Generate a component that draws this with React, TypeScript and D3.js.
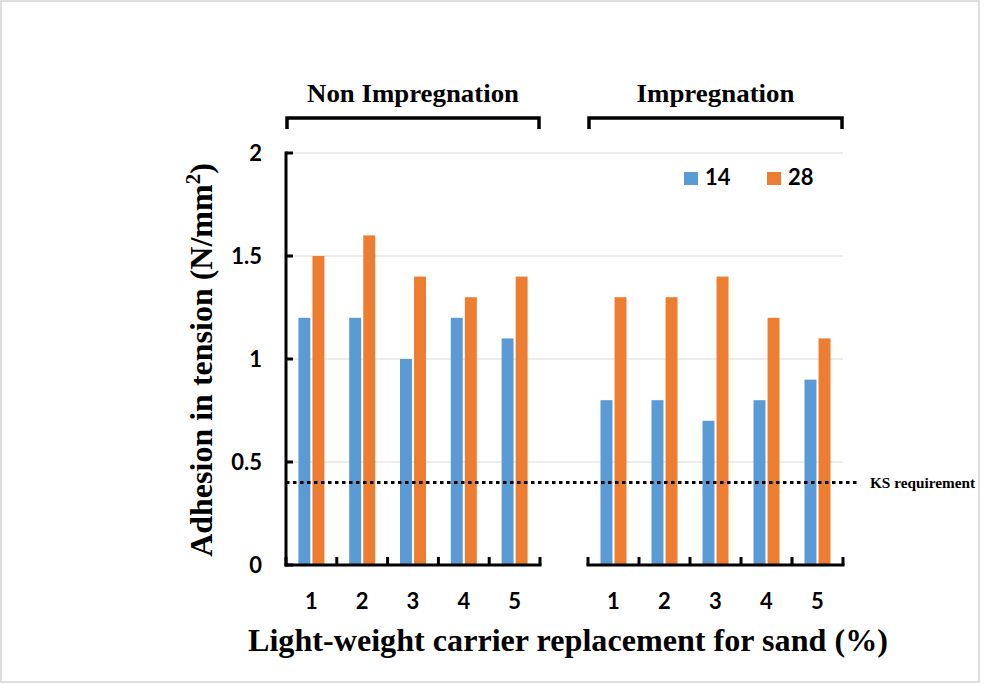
import React from "react";
import * as d3 from "d3";

const categories = ["1", "2", "3", "4", "5"];
const seriesNames = ["14", "28"];
const nonImp14 = [1.2, 1.2, 1.0, 1.2, 1.1];
const nonImp28 = [1.5, 1.6, 1.4, 1.3, 1.4];
const imp14 = [0.8, 0.8, 0.7, 0.8, 0.9];
const imp28 = [1.3, 1.3, 1.4, 1.2, 1.1];
const yTicks = [0, 0.5, 1, 1.5, 2];
const ksRequirement = 0.4;
const panelLabels = ["Non Impregnation", "Impregnation"];
const colors = ["#5B9BD5", "#ED7D31"];

const W = 986;
const H = 684;

export default function App() {
  const y = d3.scaleLinear().domain([0, 2]).range([565, 153]);
  const panels = [
    { label: panelLabels[0], range: [286, 540], data: [nonImp14, nonImp28], tl: 212 },
    { label: panelLabels[1], range: [588, 843], data: [imp14, imp28], tl: 158 },
  ];
  const sans = "Lato, 'Liberation Sans', sans-serif";
  const serif = "'Liberation Serif', 'Times New Roman', serif";

  return (
    <svg width={W} height={H} style={{ position: "absolute", left: 0, top: 0, background: "#fff" }}>
      <rect x={1} y={1} width={978} height={681} fill="#fff" stroke="#d4d4d4" strokeWidth={1.5} />
      {yTicks.filter((t) => t > 0).map((t) => (
        <line key={t} x1={286} x2={843} y1={y(t)} y2={y(t)} stroke="#d9d9d9" strokeWidth={1} />
      ))}
      {panels.map((p, pi) => {
        const x = d3.scaleBand<string>().domain(categories).range(p.range as [number, number]).padding(0);
        const inner = d3.scaleBand<string>().domain(seriesNames).range([-13, 13]).paddingInner(0.15);
        return (
          <g key={pi}>
            {categories.map((c, ci) => (
              <g key={c}>
                {seriesNames.map((s, si) => {
                  const v = p.data[si][ci];
                  const cx = (x(c) as number) + x.bandwidth() / 2;
                  return (
                    <rect
                      key={s}
                      x={cx + (inner(s) as number)}
                      y={y(v)}
                      width={inner.bandwidth()}
                      height={y(0) - y(v)}
                      fill={colors[si]}
                    />
                  );
                })}
                <text
                  x={(x(c) as number) + x.bandwidth() / 2}
                  y={609}
                  textAnchor="middle"
                  fontFamily={sans}
                  fontWeight="bold"
                  fontSize={22}
                  fill="#000"
                >
                  {c}
                </text>
              </g>
            ))}
            <line x1={p.range[0] - 1.5} x2={p.range[1] + 1.5} y1={y(0)} y2={y(0)} stroke="#000" strokeWidth={3} />
            {[...categories.map((c) => x(c) as number), p.range[1]].map((tx, i) => (
              <line key={i} x1={tx} x2={tx} y1={y(0)} y2={y(0) - 8} stroke="#000" strokeWidth={3} />
            ))}
            <path
              d={`M${p.range[0] + 1},129 L${p.range[0] + 1},118 L${p.range[1] - 1},118 L${p.range[1] - 1},129`}
              fill="none"
              stroke="#000"
              strokeWidth={3.5}
            />
            <text
              x={(p.range[0] + p.range[1]) / 2}
              y={102}
              textAnchor="middle"
              fontFamily={serif}
              fontWeight="bold"
              fontSize={26}
              textLength={p.tl}
              lengthAdjust="spacingAndGlyphs"
              fill="#000"
            >
              {p.label}
            </text>
          </g>
        );
      })}
      <line x1={286} x2={286} y1={y(2) - 1.5} y2={y(0) + 1.5} stroke="#000" strokeWidth={3} />
      {yTicks.map((t) => (
        <g key={t}>
          <line x1={286} x2={293} y1={y(t)} y2={y(t)} stroke="#000" strokeWidth={3} />
          <text
            x={262}
            y={y(t) + 8}
            textAnchor="end"
            fontFamily={sans}
            fontWeight="bold"
            fontSize={22}
            fill="#000"
          >
            {t}
          </text>
        </g>
      ))}
      <line
        x1={286}
        x2={858}
        y1={y(ksRequirement)}
        y2={y(ksRequirement)}
        stroke="#000"
        strokeWidth={3}
        strokeDasharray="3.5,3.5"
      />
      <text
        x={870}
        y={y(ksRequirement) + 5}
        fontFamily={serif}
        fontWeight="bold"
        fontSize={14.5}
        textLength={105}
        lengthAdjust="spacingAndGlyphs"
        fill="#000"
      >
        KS requirement
      </text>
      {seriesNames.map((s, i) => (
        <g key={s} transform={`translate(${684 + i * 83},172)`}>
          <rect x={0} y={0} width={14} height={13} fill={colors[i]} />
          <text x={21} y={13} fontFamily={sans} fontWeight="bold" fontSize={22} fill="#000">
            {s}
          </text>
        </g>
      ))}
      <text
        x={568}
        y={651}
        textAnchor="middle"
        fontFamily={serif}
        fontWeight="bold"
        fontSize={32}
        textLength={640}
        lengthAdjust="spacingAndGlyphs"
        fill="#000"
      >
        Light-weight carrier replacement for sand (%)
      </text>
      <text
        transform={`translate(212,360) rotate(-90)`}
        textAnchor="middle"
        fontFamily={serif}
        fontWeight="bold"
        fontSize={32}
        fill="#000"
      >
        Adhesion in tension (N/mm
        <tspan dy={-12} fontSize={21}>2</tspan>
        <tspan dy={12}>)</tspan>
      </text>
    </svg>
  );
}
